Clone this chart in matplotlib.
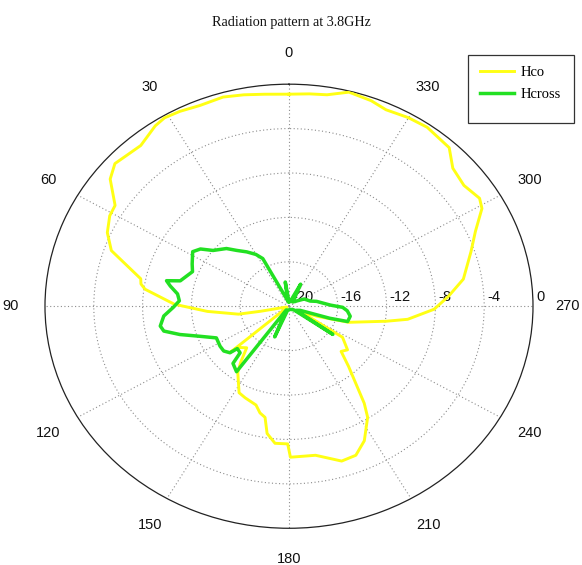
import numpy as np
import matplotlib
matplotlib.use("Agg")
import matplotlib.pyplot as plt
from matplotlib.lines import Line2D
from matplotlib.patches import Rectangle
from matplotlib.transforms import ScaledTranslation

# Co-polar pattern (angle in degrees, gain in dB)
hco_deg = [0, 6, 11, 16, 22, 27, 31, 34, 40, 44, 48, 52, 57.5, 61, 66, 71,
           78.5, 80.6, 82.6, 88.9, 94, 99.8, 101, 103, 110, 125, 130.8, 131.5,
           137.2, 141.8, 144.9, 152.3, 156.5, 163.1, 166.1, 168.9, 171.1,
           174.7, 179.5, 180.5, 189.2, 197.2, 202.2, 207, 212.8, 215.2, 222,
           226.4, 230.7, 237.5, 243, 248.6, 253.5, 260.4, 263.1, 268.7, 273.9,
           279.7, 288.2, 293.8, 299.1, 301.9, 307.2, 312.8, 317.4, 324.9,
           330.1, 335.8, 340, 345.7, 350.7, 355, 360]
hco_db = [-0.9, -0.8, -0.6, -0.4, -0.5, -0.3, -0.2, -0.4, -1.1, -1.0, -0.8,
          -1.4, -3.1, -3.2, -3.7, -4.6, -7.6, -7.7, -8.1, -10.6, -13.3, -15.8,
          -17.6, -19.4, -19.8, -19.8, -13.6, -14.4, -14.9, -13.6, -12.7,
          -11.2, -11.0, -10.7, -10.1, -9.8, -8.4, -7.6, -7.6, -6.4, -6.4,
          -5.4, -5.5, -6.4, -8.1, -9.3, -12.7, -14.1, -13.8, -14.8, -19.0,
          -17.5, -14.9, -11.9, -10.2, -8.1, -6.9, -5.5, -4.3, -3.3, -1.9,
          -1.6, -2.0, -1.7, -0.6, -0.3, -0.4, -0.6, -0.3, -0.1, -0.7, -0.8,
          -0.9]

# Cross-polar pattern (angle in degrees, gain in dB)
hcross_deg = [0, 8, 12, 20, 26.6, 30.2, 35.3, 40.4, 44.6, 51.1, 54.6, 58.1,
              64.4, 68.5, 75.6, 77.1, 79.4, 83.1, 86.9, 90.7, 94.9, 99.6,
              102.3, 105.9, 110.3, 115.6, 122.5, 127, 130.9, 132, 136.3,
              138.3, 143.9, 146, 157, 162, 200, 230, 234.8, 238, 248, 252,
              254, 259.8, 265, 268.7, 271.7, 281, 285, 297.7, 320, 334.4, 345,
              360]
hcross_db = [-19.6, -17.8, -19.5, -19.0, -15.2, -14.6, -14.0, -13.4, -12.7,
             -12.0, -11.1, -10.7, -11.2, -11.5, -10.8, -9.7, -10.1, -10.8,
             -11.0, -10.5, -9.7, -9.3, -9.5, -10.7, -12.2, -13.4, -13.3,
             -13.3, -13.6, -14.3, -14.2, -13.1, -12.7, -19.6, -17.0, -19.6,
             -19.7, -19.5, -15.6, -19.3, -19.0, -16.5, -15.0, -14.9, -15.2,
             -15.6, -16.6, -17.7, -18.2, -18.6, -19.5, -17.8, -19.5, -19.6]

r_ticks = [-20, -16, -12, -8, -4, 0]
theta_ticks = list(range(0, 360, 30))

fig = plt.figure(figsize=(5.82, 5.65), dpi=100)
ax = fig.add_axes([0.0773, 0.065, 0.8385, 0.786], projection="polar")
ax.set_aspect("auto")
ax.set_theta_zero_location("N")
ax.set_theta_direction(1)
ax.set_rlim(-20, 0)

grid_style = dict(color="#8c8c8c", linestyle=(0, (1, 2.2)), linewidth=0.8)
ax.set_thetagrids(theta_ticks, labels=[""] * len(theta_ticks))
ax.set_rgrids(r_ticks[1:-1], labels=[""] * (len(r_ticks) - 2))
ax.grid(True, **grid_style)
ax.tick_params(axis="both", length=0)
ax.spines["polar"].set_color("#222222")
ax.spines["polar"].set_linewidth(0.9)

ax.plot(np.deg2rad(hco_deg), hco_db, color="#ffff14", linewidth=2.1,
        label="Hco", zorder=3)
ax.plot(np.deg2rad(hcross_deg), hcross_db, color="#22e022", linewidth=2.5,
        label="Hcross", zorder=4)

# angle labels around the rim
label_r = -20 + 20 * 1.14
for a in theta_ticks:
    ax.text(np.deg2rad(a), label_r, str(a), ha="center", va="center",
            fontsize=10.5, family="Liberation Sans", color="#111111",
            clip_on=False)

# radial labels along the 270 direction
for r in r_ticks:
    off = ScaledTranslation(0.03, 0.09, fig.dpi_scale_trans)
    ax.text(np.deg2rad(270), r, str(r), transform=ax.transData + off,
            ha="left", va="center", fontsize=10.5, family="Liberation Sans",
            color="#111111", clip_on=False, zorder=2)

fig.text(0.5, 0.96, "Radiation pattern at 3.8GHz", ha="center", va="center",
         fontsize=10.2, family="Liberation Serif", color="#111111")

# legend
handles = [Line2D([], [], color="#ffff14", linewidth=2.1),
           Line2D([], [], color="#22e022", linewidth=2.5)]
fig.add_artist(Rectangle((468 / 582, 1 - 123 / 565), 106 / 582, 68 / 565,
                         transform=fig.transFigure, fill=False,
                         edgecolor="#333333", linewidth=0.9))
fig.legend(handles, ["Hco", "Hcross"], loc="upper left",
           bbox_to_anchor=(470 / 582, 1 - 56 / 565), frameon=False,
           prop={"family": "Liberation Serif", "size": 10.5},
           handlelength=2.3, handletextpad=0.5, labelspacing=0.55,
           borderpad=0.2)

fig.savefig("out.png", dpi=100)
